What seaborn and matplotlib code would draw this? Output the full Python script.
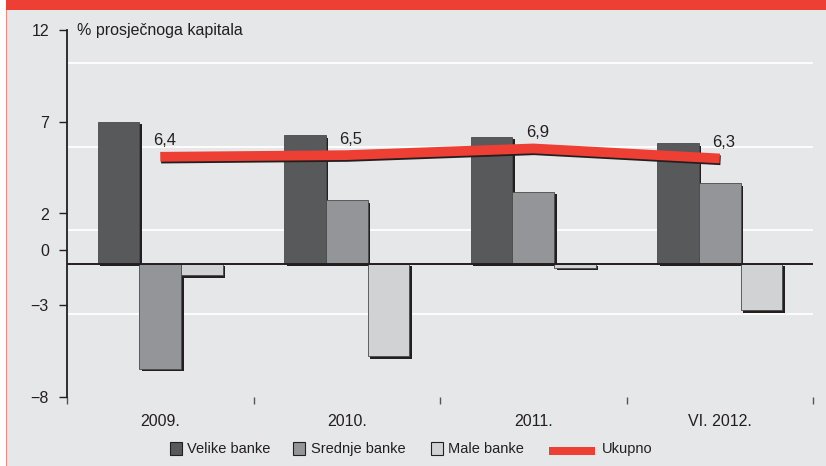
import matplotlib
matplotlib.use("Agg")
import matplotlib.pyplot as plt
import matplotlib.patheffects as pe
from matplotlib.patches import Rectangle
import seaborn as sns
import pandas as pd
import numpy as np

# ---- data ----
years = ["2009.", "2010.", "2011.", "VI. 2012."]
groups = ["Velike banke", "Srednje banke", "Male banke"]
velike = [8.5, 7.7, 7.6, 7.2]
srednje = [-6.3, 3.8, 4.3, 4.8]
male = [-0.7, -5.55, -0.25, -2.8]
ukupno = [6.4, 6.5, 6.9, 6.3]
ukupno_labels = ["6,4", "6,5", "6,9", "6,3"]
ytick_labels = [12, 7, 2, 0, -3, -8]
grid_vals = [-8, -3, 2, 7, 12]

colors = ["#58595b", "#939598", "#d1d2d4"]
red = "#ee3f34"
bg = "#e6e7e8"
txt = "#231f20"

df = pd.DataFrame({
    "year": years * 3,
    "group": [g for g in groups for _ in years],
    "value": velike + srednje + male,
})

W, H = 826, 466
fig = plt.figure(figsize=(W / 100, H / 100), dpi=100)
fig.patch.set_facecolor(bg)
plt.rcParams["font.family"] = ["Liberation Sans", "DejaVu Sans"]

def fx(x):
    return x / W

def fy(y):
    return 1 - y / H

ax = fig.add_axes([fx(67), fy(397), fx(813) - fx(67), fy(30) - fy(397)])
ax.set_facecolor("none")

sns.barplot(data=df, x="year", y="value", hue="group", order=years,
            hue_order=groups, palette=colors, saturation=1, width=0.67,
            gap=0, legend=False, ax=ax, edgecolor="#4a4a4a", linewidth=0.6,
            zorder=3)
for p in ax.patches:
    p.set_path_effects([pe.SimplePatchShadow(offset=(1.8, -1.8),
                                             shadow_rgbFace="#231f20", alpha=1),
                        pe.Normal()])

xs = np.arange(len(years))
ax.plot(xs, ukupno, color=red, lw=7, solid_capstyle="butt", zorder=5,
        path_effects=[pe.SimpleLineShadow(offset=(0.6, -1.3), shadow_color="#231f20",
                                          alpha=1), pe.Normal()])
for x, v, lab in zip(xs, ukupno, ukupno_labels):
    ax.annotate(lab, (x, v), xytext=(3, 11.5), textcoords="offset points",
                ha="center", va="center", fontsize=12, color=txt, zorder=6)

ax.axhline(0, color="#231f20", lw=1.4, zorder=4)

ax.set_xlim(-0.5, 3.5)
ax.set_ylim(-8, 13.95)

# grid (minor ticks) and misaligned labelled ticks as in the original
ax.set_yticks(grid_vals, minor=True)
ax.yaxis.grid(True, which="minor", color="white", lw=1.3, zorder=0)
ax.tick_params(axis="y", which="minor", length=0)
ax.set_yticks([-8 + (v + 8) * 1.1 for v in ytick_labels])
ax.set_yticklabels(["\u2212" + str(-v) if v < 0 else str(v) for v in ytick_labels],
                   fontsize=11.5, color=txt)
ax.tick_params(axis="y", which="major", length=6, width=1, color="#231f20",
               pad=7)

ax.set_xticks(xs)
ax.set_xticklabels(years, fontsize=11.5, color=txt)
ax.set_xticks(np.arange(-0.5, 4.0, 1.0), minor=True)
ax.tick_params(axis="x", which="major", length=0, pad=12)
ax.tick_params(axis="x", which="minor", length=5, width=1, color="#555555")
ax.set_xlabel("")
ax.set_ylabel("")

for s in ["top", "right", "bottom"]:
    ax.spines[s].set_visible(False)
ax.spines["left"].set_color("#231f20")
ax.spines["left"].set_linewidth(1.3)

fig.text(fx(77), fy(30), "% prosječnoga kapitala", fontsize=11.5, color=txt,
         ha="left", va="center")

# frame decoration
fig.add_artist(Rectangle((0, 0), fx(6), 1, transform=fig.transFigure,
                         facecolor="white", edgecolor="none"))
fig.add_artist(Rectangle((fx(6), 0), fx(1.2), 1, transform=fig.transFigure,
                         facecolor="#f4877f", edgecolor="none"))
fig.add_artist(Rectangle((fx(6), fy(10)), 1, fy(0) - fy(10),
                         transform=fig.transFigure, facecolor=red,
                         edgecolor="none"))

# legend (manual)
ly = 449
items = [(170, 187, groups[0], colors[0]), (293, 311, groups[1], colors[1]),
         (431, 448, groups[2], colors[2])]
for x0, xt, lab, c in items:
    fig.add_artist(Rectangle((fx(x0), fy(ly + 6)), fx(12), fy(0) - fy(13),
                             transform=fig.transFigure, facecolor=c,
                             edgecolor="#231f20", lw=0.8))
    fig.text(fx(xt), fy(ly), lab, fontsize=10.5, color=txt, ha="left",
             va="center")
fig.add_artist(Rectangle((fx(549), fy(ly + 6)), fx(46), fy(0) - fy(8),
                         transform=fig.transFigure, facecolor=red,
                         edgecolor="none"))
fig.text(fx(602), fy(ly), "Ukupno", fontsize=10.5, color=txt, ha="left",
         va="center")

fig.savefig("out.png", dpi=100, facecolor=bg)
